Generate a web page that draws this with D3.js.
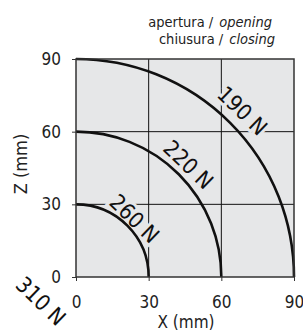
<!DOCTYPE html>
<html>
<head>
<meta charset="utf-8">
<script src="https://cdn.jsdelivr.net/npm/d3@7"></script>
<style>
  body { margin: 0; background: #fff; }
  text { font-family: "DejaVu Sans Condensed", "Liberation Sans Narrow", sans-serif; }
</style>
</head>
<body>
<div id="visContainer"></div>
<script>
// travel values and matching forces
const forces = ["190 N", "220 N", "260 N", "310 N"];
const radii = [90, 60, 30, 0];
const xTicks = [0, 30, 60, 90];
const yTicks = [0, 30, 60, 90];
const gridValues = [30, 60];

function makeVis() {
  const width = 303;
  const height = 331;
  const margins = { left: 76, right: 9, top: 59, bottom: 54 };

  const svg = d3.create("svg")
    .attr("width", width)
    .attr("height", height);
  document.querySelector("#visContainer").append(svg.node());

  const xScale = d3.scaleLinear().domain([0, 90]).range([margins.left, width - margins.right]);
  const yScale = d3.scaleLinear().domain([0, 90]).range([height - margins.bottom, margins.top]);

  const fillGrey = "#e6e7e8";

  // plot background
  svg.append("rect")
    .attr("x", xScale(0)).attr("y", yScale(90))
    .attr("width", xScale(90) - xScale(0))
    .attr("height", yScale(0) - yScale(90))
    .attr("fill", fillGrey);

  // grid
  svg.append("g").selectAll("line")
    .data(gridValues).join("line")
    .attr("x1", d => xScale(d)).attr("x2", d => xScale(d))
    .attr("y1", yScale(0)).attr("y2", yScale(90))
    .attr("stroke", "#111").attr("stroke-width", 1);
  svg.append("g").selectAll("line")
    .data(gridValues).join("line")
    .attr("y1", d => yScale(d)).attr("y2", d => yScale(d))
    .attr("x1", xScale(0)).attr("x2", xScale(90))
    .attr("stroke", "#111").attr("stroke-width", 1);

  // label positions: just outside each arc, tangent to it
  const labelData = forces.map((f, i) => {
    const r = radii[i];
    let px, py;
    if (r > 0) {
      const a = 45 * Math.PI / 180;
      const rr = r * 1.05 + 2.7;
      px = xScale(rr * Math.cos(a));
      py = yScale(rr * Math.sin(a));
    } else {
      px = xScale(0) - 35;
      py = yScale(0) + 24;
    }
    return { f, r, px, py, rot: 44 };
  });

  // halo behind labels hides the grid (only inside the plot)
  svg.append("g").selectAll("text")
    .data(labelData.filter(d => d.r > 0)).join("text")
    .attr("transform", d => `translate(${d.px},${d.py}) rotate(${d.rot})`)
    .attr("text-anchor", "middle")
    .attr("dy", "0.36em")
    .attr("font-size", 22)
    .attr("fill", "none")
    .attr("stroke", fillGrey)
    .attr("stroke-width", 6)
    .text(d => d.f);

  // arcs
  svg.append("g").selectAll("path")
    .data(radii.filter(r => r > 0)).join("path")
    .attr("d", r => {
      const p = d3.path();
      const rpx = xScale(r) - xScale(0);
      p.moveTo(xScale(0), yScale(r));
      p.arc(xScale(0), yScale(0), rpx, -Math.PI / 2, 0);
      return p.toString();
    })
    .attr("fill", "none")
    .attr("stroke", "#111")
    .attr("stroke-width", 2.6);

  // frame
  svg.append("rect")
    .attr("x", xScale(0)).attr("y", yScale(90))
    .attr("width", xScale(90) - xScale(0))
    .attr("height", yScale(0) - yScale(90))
    .attr("fill", "none")
    .attr("stroke", "#333").attr("stroke-width", 1.5);

  svg.append("g").selectAll("text")
    .data(labelData).join("text")
    .attr("transform", d => `translate(${d.px},${d.py}) rotate(${d.rot})`)
    .attr("text-anchor", "middle")
    .attr("dy", "0.36em")
    .attr("font-size", 22)
    .attr("fill", "#111")
    .text(d => d.f);

  // axes
  const xAxis = svg.append("g")
    .attr("transform", `translate(0,${yScale(0)})`)
    .call(d3.axisBottom(xScale).tickValues(xTicks).tickSize(4).tickPadding(15));
  const yAxis = svg.append("g")
    .attr("transform", `translate(${xScale(0)},0)`)
    .call(d3.axisLeft(yScale).tickValues(yTicks).tickSize(4).tickPadding(11));
  [xAxis, yAxis].forEach(g => {
    g.select(".domain").remove();
    g.selectAll("line").attr("stroke", "#333");
    g.selectAll("text")
      .attr("font-family", "Liberation Sans, Arial, sans-serif")
      .attr("font-size", 17)
      .attr("fill", "#222");
  });

  svg.append("text")
    .attr("x", (xScale(0) + xScale(90)) / 2 + 1)
    .attr("y", 328)
    .attr("text-anchor", "middle")
    .attr("font-family", "Liberation Sans, Arial, sans-serif")
    .attr("font-size", 17).attr("fill", "#222")
    .text("X (mm)");

  svg.append("text")
    .attr("transform", `translate(27,164) rotate(-90)`)
    .attr("text-anchor", "middle")
    .attr("font-family", "Liberation Sans, Arial, sans-serif")
    .attr("font-size", 18).attr("fill", "#222")
    .text("Z (mm)");

  // legend, italic part right aligned, plain part before it
  const legend = [
    { plain: "apertura /", italic: "opening", x: 272, y: 27 },
    { plain: "chiusura /", italic: "closing", x: 275, y: 44 }
  ];
  legend.forEach(l => {
    const it = svg.append("text").attr("x", l.x).attr("y", l.y)
      .attr("text-anchor", "end").attr("font-size", 14.5)
      .attr("font-style", "italic").attr("fill", "#222")
      .text(l.italic);
    const w = it.node().getComputedTextLength();
    svg.append("text").attr("x", l.x - w - 6).attr("y", l.y)
      .attr("text-anchor", "end").attr("font-size", 14.5)
      .attr("fill", "#222")
      .text(l.plain);
  });
}

makeVis();
</script>
</body>
</html>
